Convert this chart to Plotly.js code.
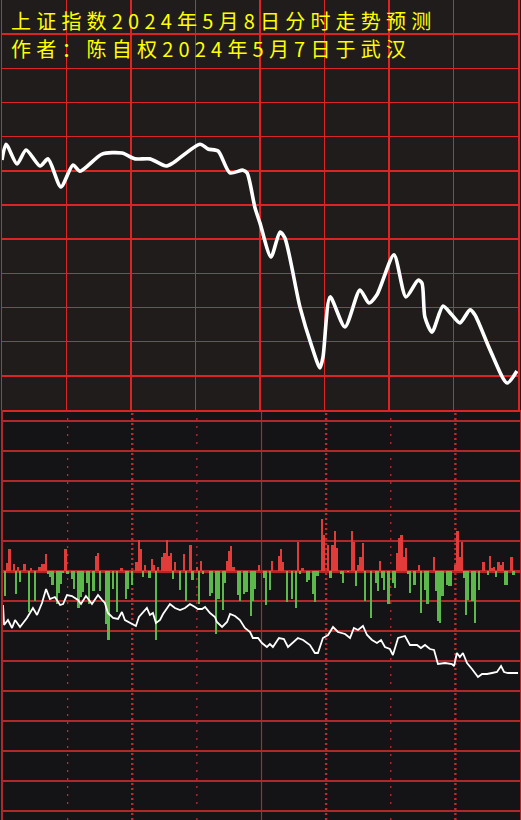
<!DOCTYPE html>
<html>
<head>
<meta charset="utf-8">
<script src="https://cdn.plot.ly/plotly-3.0.1.min.js"></script>
<style>
html,body{margin:0;padding:0;background:#141416;}
#chart{width:521px;height:820px;}
text.annotation-text{letter-spacing:5.2px;}
</style>
</head>
<body>
<div id="chart"></div>
<script>
// ---- Texts ----
const titleLine1 = "上证指数2024年5月8日分时走势预测";
const titleLine2 = "作者：陈自权2024年5月7日于武汉";

// ---- Upper panel: forecast curve (minute of session, grid-row units) ----
const topMinutes = [0, 1.9, 7, 11.2, 17.7, 21.4, 27.4, 33, 36.3, 46.5, 55.8, 61.9, 68.8, 76.3, 79.5, 92.1, 95.8, 100.5, 106, 112.1, 114, 117.7, 120, 125.1, 129.3, 131.6, 138.6, 144.2, 147.9, 149.3, 152.6, 159.5, 166.5, 170.7, 174.4, 182.3, 187.9, 193.5, 195.3, 196.7, 200, 205.1, 209.3, 213, 217.7, 220, 227, 234.9, 239.5];
const topValues  = [7.32, 7.78, 7.20, 7.61, 7.14, 7.35, 6.53, 7.17, 6.99, 7.49, 7.52, 7.35, 7.35, 7.14, 7.23, 7.78, 7.64, 7.58, 6.94, 7.02, 6.94, 5.91, 5.47, 4.48, 5.21, 5.03, 3.01, 1.84, 1.23, 1.55, 3.31, 2.43, 3.51, 3.13, 3.37, 4.54, 3.31, 3.80, 3.72, 2.72, 2.28, 3.04, 2.78, 2.55, 2.93, 2.78, 1.76, 0.79, 1.14];

// ---- Lower panel: red/green bars ----
const barMinutes = [1,2,3,5,6,7,8,10,12,13,15,17,18,19,20,21,22,23,25,26,27,28,29,30,32,33,35,36,37,39,40,42,43,44,45,48,49,51,53,55,57,58,60,62,63,64,65,66,68,69,70,71,72,74,75,76,77,78,79,80,82,84,85,87,88,90,91,92,93,96,97,99,100,102,103,104,105,106,107,109,110,112,113,115,116,117,119,121,122,124,125,128,129,130,132,134,136,137,138,139,141,142,144,145,146,148,149,151,152,153,154,155,157,158,160,162,163,164,165,166,167,168,171,173,174,175,176,177,179,181,182,183,184,185,186,187,188,189,191,193,194,196,197,200,201,202,203,204,206,207,208,210,211,212,213,214,215,216,218,219,221,223,225,226,227,228,229,230,231,232,233,234,236,237];
const barValues  = [-25,8,22,7,-23,4,-11,7,-41,3,-30,4,7,7,17,-3,-6,-14,-33,-22,-13,-2,22,-3,-8,-18,-37,-26,-21,-12,-33,-20,15,18,-20,-53,-69,-18,-41,3,-28,-18,-14,9,31,22,-6,6,-7,12,6,-69,4,14,18,31,15,18,-8,9,-19,17,-30,26,-9,4,-33,10,-3,-25,-22,-63,-28,-39,-12,10,20,25,4,-24,-30,-23,-21,-45,-30,-18,6,-7,-34,-19,10,15,22,9,-31,-28,-37,29,-3,3,-11,-9,-23,-31,-5,52,36,26,-7,26,40,23,-3,-12,-1,40,29,-15,6,14,28,-30,-47,-12,-20,10,-7,-19,-33,-12,-17,18,33,36,14,23,-3,-22,-14,6,-42,-19,-33,14,-20,-50,-52,-25,-14,-15,-15,6,40,14,29,-7,-44,-29,-30,-52,-19,9,-4,15,3,4,-6,9,6,9,-14,-14,14,-4];

// ---- Lower panel: white line ----
const subMinutes = [0,0.5,2.3,4.2,5.6,7.9,11.1,13.9,15.8,18.1,20,21.8,24.1,26.5,27.9,29.7,32,34.8,36.2,38.5,41.3,44.1,46,47.3,48.7,51.1,53.4,55.2,56.6,59,61.7,63.1,65.9,66.8,68.2,69.6,71,72.9,74.3,77.5,79.8,82.2,84.5,86.8,89.1,90.5,92.4,93.8,96.1,98.4,99.3,101.7,104,105.4,107.7,110,112.3,114.7,116,118.4,120.2,122.5,123.9,125.3,128.1,130.4,132.3,134.6,136.9,139.3,142.5,144.8,146.2,148.5,150.9,153.2,155.5,158.8,161.1,162.9,164.8,167.1,169,171.3,173.6,175.5,177.3,179.6,181,183.4,186.6,188.9,192.2,194,195.9,198.2,200.1,201.9,205.2,208.4,209.4,210.7,212.1,213.5,215.4,217.7,220.5,222.4,224.7,227,229.3,231.2,232.6,234.4,237.7,239.1];
const subValues  = [-34,-54,-49,-57,-49,-56,-47,-37,-44,-32,-18,-28,-26,-34,-33,-24,-25,-29,-33,-25,-33,-24,-29,-32,-42,-47,-48,-41,-49,-52,-55,-46,-39,-37,-44,-42,-52,-49,-43,-33,-37,-39,-37,-33,-36,-38,-38,-36,-42,-46,-51,-56,-51,-43,-45,-49,-57,-61,-67,-67,-72,-76,-73,-76,-67,-68,-76,-71,-67,-69,-74,-82,-82,-67,-64,-56,-61,-63,-67,-57,-59,-55,-64,-69,-72,-69,-76,-78,-84,-67,-65,-74,-74,-77,-74,-78,-79,-93,-92,-93,-95,-82,-86,-82,-92,-98,-106,-103,-103,-102,-101,-95,-101,-102,-102,-102];

// ---- Lower panel vertical guide minutes ----
const thinDotMinutes = [30, 90, 180];
const thickDotMinutes = [60, 150, 210];
const noonMinutes = [120];

const RED_TOP = '#dc2424';
const RED_BOT = '#b0292a';

const traces = [
  {
    x: topMinutes, y: topValues, xaxis: 'x', yaxis: 'y',
    type: 'scatter', mode: 'lines',
    line: {color: '#ffffff', width: 3.6, shape: 'spline', smoothing: 0.7},
    hoverinfo: 'skip', showlegend: false
  },
  {
    x: barMinutes, y: barValues, xaxis: 'x2', yaxis: 'y2',
    type: 'bar', width: 1.05,
    marker: {color: barValues.map(v => v >= 0 ? '#e23c3a' : '#5cb84a'), line: {width: 0}},
    hoverinfo: 'skip', showlegend: false
  },
  {
    x: subMinutes, y: subValues, xaxis: 'x2', yaxis: 'y2',
    type: 'scatter', mode: 'lines',
    line: {color: '#ffffff', width: 1.8, shape: 'linear'},
    hoverinfo: 'skip', showlegend: false
  }
];

const shapes = [
  {type: 'rect', xref: 'paper', yref: 'paper', x0: 0, x1: 1, y0: 0.5, y1: 1,
   fillcolor: '#201c1b', line: {width: 0}, layer: 'below'}
];
thinDotMinutes.forEach(m => shapes.push({type: 'line', xref: 'x2', yref: 'paper', x0: m, x1: m, y0: 0, y1: 0.5,
  line: {color: '#c02a2a', width: 1.3, dash: '2px,6px'}, layer: 'below'}));
thickDotMinutes.forEach(m => shapes.push({type: 'line', xref: 'x2', yref: 'paper', x0: m, x1: m, y0: 0, y1: 0.5,
  line: {color: '#c02a2a', width: 2.4, dash: '2px,3px'}, layer: 'below'}));
noonMinutes.forEach(m => shapes.push({type: 'line', xref: 'x2', yref: 'paper', x0: m, x1: m, y0: 0, y1: 0.5,
  line: {color: '#a0302e', width: 1.2}, layer: 'below'}));

const titleFont = {family: '"Noto Sans CJK SC", "Noto Sans CJK JP", sans-serif', size: 20, color: '#ffff00'};

const layout = {
  width: 521, height: 820,
  margin: {l: 0, r: 0, t: 0, b: 0, pad: 0},
  paper_bgcolor: '#141416',
  plot_bgcolor: 'rgba(0,0,0,0)',
  showlegend: false,
  bargap: 0,
  xaxis: {
    domain: [2/521, 518/521], range: [0, 240], dtick: 30, tick0: 0,
    showgrid: true, gridcolor: RED_TOP, gridwidth: 1.5,
    showline: true, mirror: true, linecolor: RED_TOP, linewidth: 1.5,
    zeroline: false, showticklabels: false, ticks: '', anchor: 'y', fixedrange: true
  },
  yaxis: {
    domain: [0.5, 1], range: [0, 12], dtick: 1, tick0: 0,
    showgrid: true, gridcolor: RED_TOP, gridwidth: 1.5,
    showline: true, mirror: true, linecolor: RED_TOP, linewidth: 1.5,
    zeroline: false, showticklabels: false, ticks: '', anchor: 'x', fixedrange: true
  },
  xaxis2: {
    domain: [3/521, 520/521], range: [0, 240],
    showgrid: false, showline: false, zeroline: false,
    showticklabels: false, ticks: '', anchor: 'y2', fixedrange: true
  },
  yaxis2: {
    domain: [0, 0.5], range: [-249, 161], dtick: 30, tick0: 0,
    showgrid: true, gridcolor: RED_BOT, gridwidth: 2.4,
    zeroline: true, zerolinecolor: RED_BOT, zerolinewidth: 3,
    showline: true, mirror: true, linecolor: RED_BOT, linewidth: 2.4,
    showticklabels: false, ticks: '', anchor: 'x2', fixedrange: true
  },
  shapes: shapes,
  annotations: [
    {xref: 'paper', yref: 'paper', x: 10/521, y: 1 - 20/820, xanchor: 'left', yanchor: 'middle',
     text: titleLine1, showarrow: false, font: titleFont, borderpad: 0},
    {xref: 'paper', yref: 'paper', x: 10/521, y: 1 - 48/820, xanchor: 'left', yanchor: 'middle',
     text: titleLine2, showarrow: false, font: titleFont, borderpad: 0}
  ]
};

Plotly.newPlot('chart', traces, layout, {staticPlot: true, displayModeBar: false});
</script>
</body>
</html>
